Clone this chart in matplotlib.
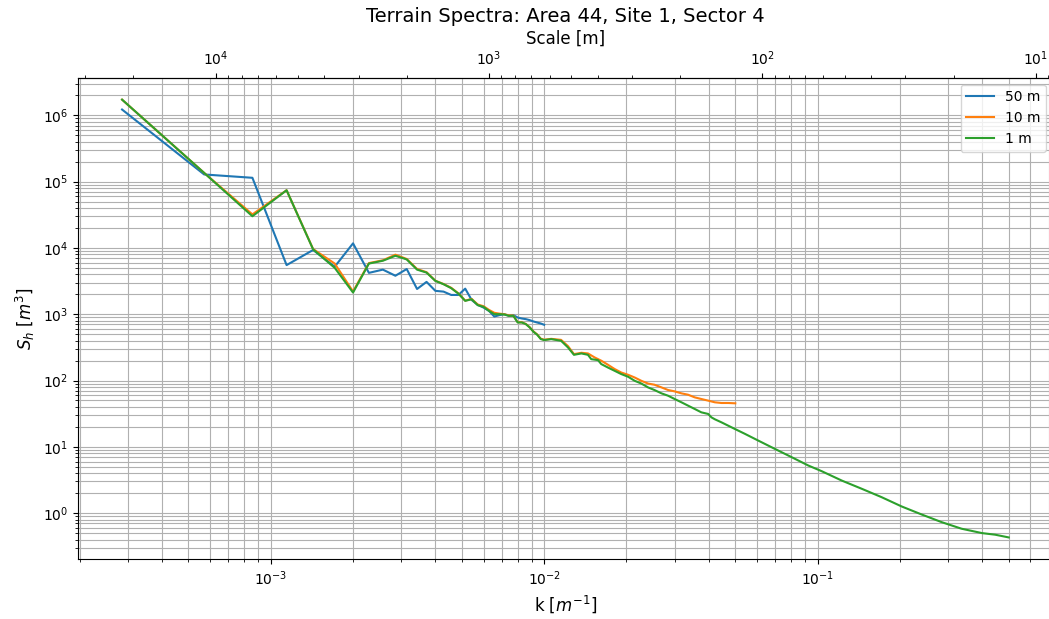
import numpy as np
import matplotlib
matplotlib.use("Agg")
import matplotlib.pyplot as plt

# Wavenumbers of the first 35 harmonics (shared by all three resolutions)
k_low = [0.000286, 0.000571, 0.000857, 0.001143, 0.001429, 0.001714, 0.002,
         0.002286, 0.002571, 0.002857, 0.003143, 0.003429, 0.003714, 0.004,
         0.004286, 0.004571, 0.004857, 0.005143, 0.005429, 0.005714, 0.006,
         0.006286, 0.006571, 0.006857, 0.007143, 0.007429, 0.007714, 0.008,
         0.008286, 0.008571, 0.008857, 0.009143, 0.009429, 0.009714, 0.01]

# 50 m grid
S_50 = [1.22e6, 1.28e5, 1.14e5, 5.5e3, 9.3e3, 5.2e3, 1.17e4, 4.2e3, 4.7e3,
        3.8e3, 4.8e3, 2.4e3, 3.07e3, 2.25e3, 2.19e3, 1.95e3, 1.95e3, 2.43e3,
        1.64e3, 1.38e3, 1.26e3, 1.12e3, 922, 968, 1000, 945, 968, 891, 861,
        842, 813, 776, 749, 724, 692]

# 10 m grid
S_10_low = [1.72e6, 1.35e5, 3.2e4, 7.4e4, 9.6e3, 5.8e3, 2.2e3, 5.9e3, 6.5e3,
            7.9e3, 6.8e3, 4.8e3, 4.3e3, 3.2e3, 2.85e3, 2.5e3, 2.06e3, 1.6e3,
            1.7e3, 1.4e3, 1.32e3, 1.16e3, 1.05e3, 1.02e3, 1.0e3, 960, 955,
            760, 755, 712, 635, 548, 495, 428, 412]
k_10_tail = [0.01061, 0.01153, 0.01222, 0.01285, 0.01368, 0.01446, 0.01529,
             0.01617, 0.0171, 0.0181, 0.01914, 0.02027, 0.02143, 0.02266,
             0.02398, 0.0253, 0.02685, 0.02838, 0.030, 0.03177, 0.03358,
             0.03553, 0.03757, 0.0398, 0.0421, 0.04449, 0.0471, 0.05]
S_10_tail = [425, 410, 330, 250, 262, 256, 223, 199, 173, 149, 132, 122, 111,
             99, 90, 86.4, 78.7, 71.9, 68.6, 64, 61.1, 55.7, 52.6, 49.7, 46.9,
             45.8, 45.8, 45.3]

# 1 m grid
S_1_low = [1.72e6, 1.35e5, 3.0e4, 7.4e4, 9.5e3, 5.0e3, 2.12e3, 5.8e3, 6.4e3,
           7.6e3, 6.7e3, 4.7e3, 4.24e3, 3.18e3, 2.83e3, 2.47e3, 2.04e3, 1.59e3,
           1.68e3, 1.37e3, 1.29e3, 1.12e3, 1.0e3, 1.0e3, 990, 945, 945, 750,
           750, 708, 630, 542, 490, 422, 407]
k_1_tail = [0.01061, 0.01153, 0.01222, 0.01285, 0.01368, 0.01446, 0.01486,
            0.01573, 0.01617, 0.0171, 0.0181, 0.01914, 0.02027, 0.02143,
            0.02266, 0.02398, 0.0253, 0.02685, 0.02838, 0.030, 0.03177,
            0.03358, 0.03553, 0.03757, 0.0398, 0.0409, 0.0421, 0.0445, 0.0498,
            0.0542, 0.0607, 0.0698, 0.0804, 0.0925, 0.1035, 0.1225, 0.145,
            0.1714, 0.203, 0.240, 0.284, 0.336, 0.399, 0.446, 0.5]
S_1_tail = [421, 397, 315, 244, 256, 244, 210, 203, 177, 157, 140, 125, 114,
            99, 90, 78.7, 71.9, 64, 59, 52.6, 46.9, 41.8, 37.2, 33.1, 31.3,
            27.8, 26.0, 23.4, 18.6, 15.7, 12.4, 9.3, 6.97, 5.22, 4.29, 3.1,
            2.33, 1.74, 1.26, 0.955, 0.732, 0.582, 0.50, 0.473, 0.43]

k_10 = np.concatenate([k_low, k_10_tail])
S_10 = np.concatenate([S_10_low, S_10_tail])
k_1 = np.concatenate([k_low, k_1_tail])
S_1 = np.concatenate([S_1_low, S_1_tail])

fig = plt.figure(figsize=(10.49, 6.19), dpi=100)
ax = fig.add_axes([0.0741, 0.0964, 0.9298, 0.778])

ax.loglog(k_low, S_50, label="50 m")
ax.loglog(k_10, S_10, label="10 m")
ax.loglog(k_1, S_1, label="1 m")

ax.grid(which="both")
ax.set_xlabel("k [$m^{-1}$]", fontsize=12)
ax.set_ylabel("$S_h$ [$m^3$]", fontsize=12)
ax.legend(loc="upper right")

# wavelength axis on top
secax = ax.secondary_xaxis("top", functions=(lambda k: 2 * np.pi / k,
                                             lambda s: 2 * np.pi / s))
secax.set_xlabel("Scale [m]", fontsize=12)

ax.set_title("Terrain Spectra: Area 44, Site 1, Sector 4", fontsize=14)

fig.savefig("out.png", dpi=100)
